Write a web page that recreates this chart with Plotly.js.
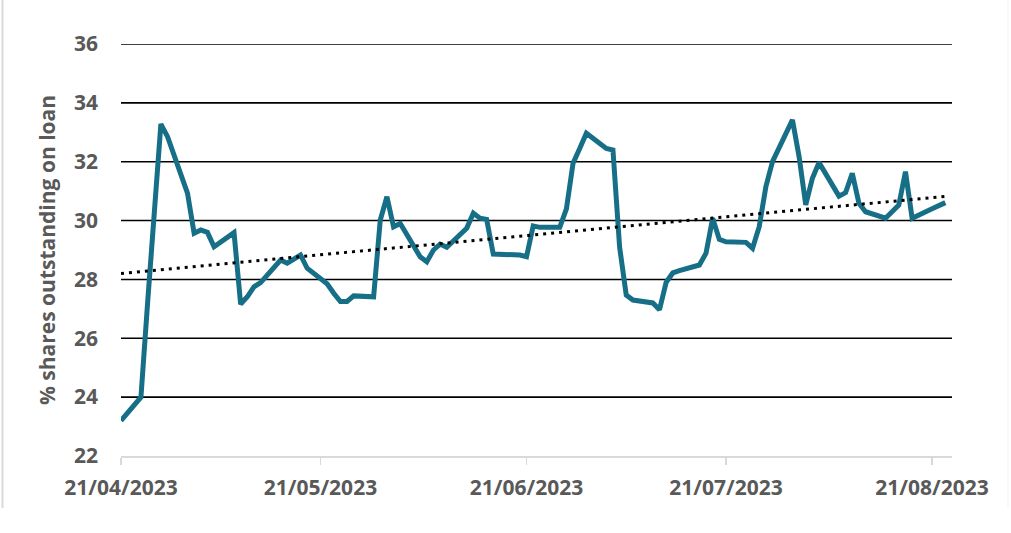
<!DOCTYPE html>
<html>
<head>
<meta charset="utf-8">
<script src="https://cdn.plot.ly/plotly-3.0.1.min.js"></script>
<style>
  html, body { margin: 0; padding: 0; background: #fff; }
  #chart { width: 1011px; height: 533px; }
</style>
</head>
<body>
<div id="chart"></div>
<script>
// ---- Data ----
const dates = [
  '2023-04-21','2023-04-24','2023-04-25','2023-04-26','2023-04-27','2023-04-28',
  '2023-05-01','2023-05-02','2023-05-03','2023-05-04','2023-05-05',
  '2023-05-08','2023-05-09','2023-05-10','2023-05-11','2023-05-12',
  '2023-05-15','2023-05-16','2023-05-17','2023-05-18','2023-05-19',
  '2023-05-22','2023-05-23','2023-05-24','2023-05-25','2023-05-26',
  '2023-05-29','2023-05-30','2023-05-31','2023-06-01','2023-06-02',
  '2023-06-05','2023-06-06','2023-06-07','2023-06-08','2023-06-09',
  '2023-06-12','2023-06-13','2023-06-14','2023-06-15','2023-06-16',
  '2023-06-19','2023-06-20','2023-06-21','2023-06-22','2023-06-23',
  '2023-06-26','2023-06-27','2023-06-28','2023-06-29','2023-06-30',
  '2023-07-03','2023-07-04','2023-07-05','2023-07-06','2023-07-07',
  '2023-07-10','2023-07-11','2023-07-12','2023-07-13','2023-07-14',
  '2023-07-17','2023-07-18','2023-07-19','2023-07-20','2023-07-21',
  '2023-07-24','2023-07-25','2023-07-26','2023-07-27','2023-07-28',
  '2023-07-31','2023-08-01','2023-08-02','2023-08-03','2023-08-04',
  '2023-08-07','2023-08-08','2023-08-09','2023-08-10','2023-08-11',
  '2023-08-14','2023-08-15','2023-08-16','2023-08-17','2023-08-18',
  '2023-08-21','2023-08-22','2023-08-23'
];
const sharesOnLoan = [
  23.20, 24.00, 27.20, 30.00, 33.28, 32.85,
  30.93, 29.57, 29.68, 29.60, 29.11,
  29.59, 27.16, 27.41, 27.75, 27.89,
  28.66, 28.55, 28.68, 28.83, 28.38,
  27.85, 27.53, 27.25, 27.25, 27.44,
  27.41, 30.02, 30.81, 29.79, 29.90,
  28.77, 28.60, 29.00, 29.20, 29.09,
  29.74, 30.25, 30.08, 30.04, 28.86,
  28.83, 28.83, 28.77, 29.82, 29.77,
  29.77, 30.40, 31.95, 32.45, 32.97,
  32.45, 32.40, 29.10, 27.47, 27.30,
  27.20, 26.97, 27.90, 28.22, 28.30,
  28.49, 28.89, 30.08, 29.36, 29.28,
  29.26, 29.06, 29.79, 31.15, 32.00,
  33.42, 32.17, 30.53, 31.44, 31.97,
  30.83, 30.95, 31.61, 30.59, 30.30,
  30.08, 30.30, 30.53, 31.66, 30.08,
  30.40, 30.50, 30.61
];
const tickDates = ['2023-04-21','2023-05-21','2023-06-21','2023-07-21','2023-08-21'];
const yTicks = [22, 24, 26, 28, 30, 32, 34, 36];
const yTitle = '% shares outstanding on loan';

// ---- Linear trendline (least squares over the series) ----
const tms = dates.map(d => new Date(d + 'T00:00:00Z').getTime());
const n = tms.length;
const mx = tms.reduce((a, b) => a + b, 0) / n;
const my = sharesOnLoan.reduce((a, b) => a + b, 0) / n;
let sxy = 0, sxx = 0;
for (let i = 0; i < n; i++) { sxy += (tms[i] - mx) * (sharesOnLoan[i] - my); sxx += (tms[i] - mx) ** 2; }
const slope = sxy / sxx;
const icpt = my - slope * mx;
const trendX = [dates[0], dates[n - 1]];
const trendY = [icpt + slope * tms[0], icpt + slope * tms[n - 1]];

// ---- Layout geometry ----
const W = 1011, H = 533;
const M = { l: 121, r: 59, t: 44, b: 77 };
const pw = W - M.l - M.r, ph = H - M.t - M.b;
const px = x => (x - M.l) / pw;
const py = y => (H - M.b - y) / ph;

const FAMILY = '"Open Sans", "Liberation Sans", sans-serif';
const tickFont = { family: FAMILY, size: 21, color: '#595959', weight: 'bold' };

const traces = [
  {
    x: dates, y: sharesOnLoan, type: 'scatter', mode: 'lines',
    line: { color: '#166f87', width: 5, shape: 'linear' },
    hoverinfo: 'x+y', showlegend: false
  },
  {
    x: trendX, y: trendY, type: 'scatter', mode: 'lines',
    line: { color: '#000000', width: 3, dash: '3px,5px' },
    hoverinfo: 'skip', showlegend: false
  }
];

// gridlines drawn as shapes on every y tick except the bottom (axis line there)
const gridShapes = yTicks.slice(1).map(v => ({
  type: 'line', xref: 'paper', yref: 'y', x0: 0, x1: 1, y0: v, y1: v,
  layer: 'below', line: { color: '#000000', width: 1.6 }
}));

const layout = {
  width: W, height: H,
  margin: M,
  paper_bgcolor: '#ffffff', plot_bgcolor: '#ffffff',
  font: tickFont,
  showlegend: false,
  xaxis: {
    type: 'date',
    range: ['2023-04-21', '2023-08-24'],
    tickvals: tickDates,
    tickformat: '%d/%m/%Y',
    tickfont: tickFont,
    ticks: 'outside', ticklen: 7, tickwidth: 1.5, tickcolor: '#d9d9d9',
    ticklabelstandoff: 5,
    showgrid: false, zeroline: false,
    showline: true, linecolor: '#d9d9d9', linewidth: 2,
    automargin: false
  },
  yaxis: {
    range: [22, 36],
    tickvals: yTicks,
    tickfont: tickFont,
    ticks: '', ticklabelstandoff: 22,
    showgrid: false,
    zeroline: false, showline: false,
    automargin: false,
    title: { text: yTitle, font: { family: FAMILY, size: 21, color: '#595959', weight: 'bold' }, standoff: 12 }
  },
  shapes: gridShapes.concat([
    { type: 'line', xref: 'paper', yref: 'paper', x0: px(2.5), x1: px(2.5), y0: py(0), y1: py(508),
      line: { color: '#d9d9d9', width: 2 } },
    { type: 'line', xref: 'paper', yref: 'paper', x0: px(1008), x1: px(1008), y0: py(0), y1: py(508),
      line: { color: '#f2f2f2', width: 1 } }
  ])
};

Plotly.newPlot('chart', traces, layout, { displayModeBar: false, staticPlot: true });
</script>
</body>
</html>
